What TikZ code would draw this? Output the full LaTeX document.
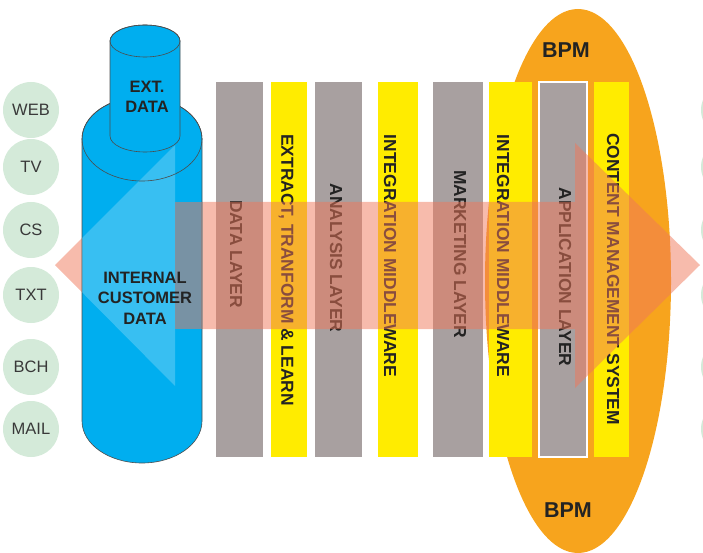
\documentclass[tikz,border=0pt]{standalone}
\usepackage{fontspec}
\setmainfont{Liberation Sans}
\definecolor{srcgreen}{RGB}{212,234,217}
\definecolor{barGray}{RGB}{168,160,160}
\definecolor{barYellow}{RGB}{255,236,0}
\definecolor{bpmOrange}{RGB}{247,164,29}
\definecolor{storeBlue}{RGB}{0,174,239}
\definecolor{flowSalmon}{RGB}{240,120,90}
\definecolor{labelInk}{RGB}{35,35,35}
\begin{document}
\begin{tikzpicture}[x=1pt,y=-1pt,
    source/.style={circle,fill=srcgreen,minimum size=56pt,inner sep=0pt,
      text=labelInk!90,font=\fontsize{16.5}{16.5}\selectfont},
    graybar/.style={fill=barGray},
    yellowbar/.style={fill=barYellow},
    layer/.style={rotate=-90,text=labelInk,font=\bfseries\fontsize{17.4}{17.4}\selectfont},
    store/.style={fill=storeBlue,draw=black!70,line width=0.6pt},
    storetext/.style={align=center,text=labelInk,font=\bfseries\fontsize{16.5}{20.5}\selectfont}]
  \useasboundingbox (0,0) rectangle (703,553);
  % channels
  \node[source] (web) at (31,110) {WEB};
  \node[source] (tv) at (31,167) {TV};
  \node[source] (cs) at (31,230) {CS};
  \node[source] (txt) at (31,295) {TXT};
  \node[source] (bch) at (31,367) {BCH};
  \node[source] (mail) at (31,429) {MAIL};
  \foreach \y in {110,167,230,295,367,429}
    \node[source] (out\y) at (729,\y) {};
  % BPM
  \fill[bpmOrange] (578,281) ellipse [x radius=93pt, y radius=272pt];
  \node[font=\bfseries\fontsize{21.5}{21.5}\selectfont,text=labelInk] (bpmtop) at (566,50) {BPM};
  \node[font=\bfseries\fontsize{21.5}{21.5}\selectfont,text=labelInk] (bpmbot) at (568,510) {BPM};
  % layers
  \fill[graybar] (216,82) rectangle (263,457);
  \fill[yellowbar] (271,82) rectangle (307,457);
  \fill[graybar] (315,82) rectangle (362,457);
  \fill[yellowbar] (378,82) rectangle (418,457);
  \fill[graybar] (433,82) rectangle (483,457);
  \fill[yellowbar] (489,82) rectangle (532,457);
  \filldraw[graybar,draw=white,line width=1.2pt] (539,82) rectangle (587,457);
  \fill[yellowbar] (594,82) rectangle (629,457);
  \node[layer] (datalayer) at (236,254) {DATA LAYER};
  \node[layer] (etl) at (286,270) {EXTRACT, TRANFORM \& LEARN};
  \node[layer] (analysis) at (336,258) {ANALYSIS LAYER};
  \node[layer] (middle1) at (390,256) {INTEGRATION MIDDLEWARE};
  \node[layer] (marketing) at (460,254) {MARKETING LAYER};
  \node[layer] (middle2) at (503,256) {INTEGRATION MIDDLEWARE};
  \node[layer] (application) at (565,277) {APPLICATION LAYER};
  \node[layer] (cms) at (613,279) {CONTENT MANAGEMENT SYSTEM};
  % flow
  \fill[flowSalmon,fill opacity=0.5] (55,265) -- (175,145) -- (175,202) -- (575,202)
    -- (575,143) -- (700,265) -- (575,388) -- (575,329) -- (175,329) -- (175,386) -- cycle;
  % data stores
  \filldraw[store] (82,139) -- (82,421)
    arc [start angle=180, end angle=360, x radius=60pt, y radius=42pt]
    -- (202,139) arc [start angle=0, end angle=180, x radius=60pt, y radius=42pt] -- cycle;
  \begin{scope}
    \clip (82,139) rectangle (202,421);
    \fill[white,fill opacity=0.22] (55,265) -- (175,145) -- (175,386) -- cycle;
    \fill[flowSalmon,fill opacity=0.5] (175,202) rectangle (202,329);
  \end{scope}
  \draw[store,fill=none] (142,139) ellipse [x radius=60pt, y radius=42pt];
  \filldraw[store] (110,41) -- (110,136)
    arc [start angle=180, end angle=360, x radius=35pt, y radius=16pt]
    -- (180,41) arc [start angle=0, end angle=180, x radius=35pt, y radius=16pt] -- cycle;
  \draw[store,fill=none] (145,41) ellipse [x radius=35pt, y radius=16pt];
  \node[storetext] (extdata) at (147,97) {EXT.\\DATA};
  \node[storetext] (internal) at (145,298) {INTERNAL\\CUSTOMER\\DATA};
\end{tikzpicture}
\end{document}
